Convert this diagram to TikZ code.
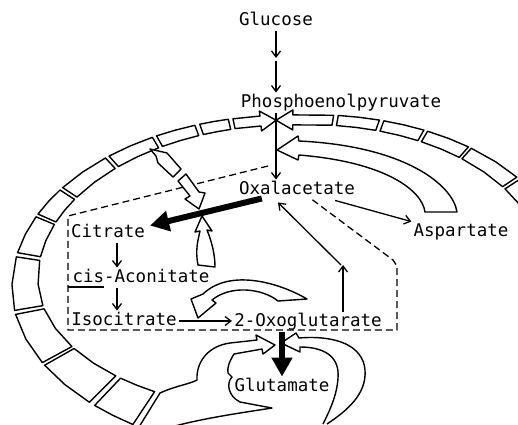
\documentclass[tikz,border=0pt]{standalone}
\usepackage{fontspec}
\usepackage{tikz}
\usetikzlibrary{arrows.meta}
\newfontfamily\metfont{DejaVu Sans Mono}

\begin{document}
\begin{tikzpicture}[x=1pt,y=-1pt,
  met/.style={font=\metfont\fontsize{17.5}{20}\selectfont, inner sep=2pt, text height=13pt, text depth=3.5pt},
  arr/.style={line width=1.3pt, -{Straight Barb[length=6pt,width=9pt]}},
  fatarr/.style={line width=6pt, -{Triangle[length=19pt,width=20pt]}},
  blk/.style={line width=1.4pt, line join=round, fill=white},
  curl/.style={line width=1.4pt, line join=round},
  pool/.style={line width=1.3pt, dash pattern=on 7pt off 4pt},
  declare function={
    rw(\ang)=26+16*sin(\ang);
    rb(\ang)=(sin(\ang)>0)*150+(sin(\ang)<=0)*163;
    rx(\ang,\off)=(265+\off)*cos(\ang);
    ry(\ang,\off)=(rb(\ang)+\off)*sin(\ang)-12*max(cos(\ang),0);
  }]
\useasboundingbox (0,0) rectangle (518,424);
\clip (0,0) rectangle (518,424);

% pool boundary
\draw[pool] (268,166) -- (68,216) -- (68,330) -- (397,330) -- (397,266) -- (393,260) -- (310,198);

% ring of blocks
\begin{scope}[shift={(290,283)}]
\foreach \ta/\tb in {123.5/133.5, 135/150.5, 151.5/169, 170.4/188.6, 190/202.5, 203.5/212.8, 213.8/227.3, 228.3/239.5, 240.5/249.4, 250.5/256.8, 280.3/289.3, 290.3/299.6, 300.5/311, 311.8/326, 327/339, 340/354}{
  \pgfmathsetmacro\tm{(\ta+\tb)/2}
  \draw[blk] ({rx(\ta,rw(\ta)/2)},{ry(\ta,rw(\ta)/2)}) -- ({rx(\tm,rw(\tm)/2)},{ry(\tm,rw(\tm)/2)}) -- ({rx(\tb,rw(\tb)/2)},{ry(\tb,rw(\tb)/2)})
    -- ({rx(\tb,-rw(\tb)/2)},{ry(\tb,-rw(\tb)/2)}) -- ({rx(\tm,-rw(\tm)/2)},{ry(\tm,-rw(\tm)/2)}) -- ({rx(\ta,-rw(\ta)/2)},{ry(\ta,-rw(\ta)/2)}) -- cycle;
}
% the two ring arrows meeting under PEP
\draw[blk] ({rx(257.8,5)},{ry(257.8,5)}) -- ({rx(263.6,5)},{ry(263.6,5)}) -- ({rx(263.6,10)},{ry(263.6,10)}) -- ({rx(267,0)},{ry(267,0)})
  -- ({rx(263.6,-10)},{ry(263.6,-10)}) -- ({rx(263.6,-5)},{ry(263.6,-5)}) -- ({rx(257.8,-5)},{ry(257.8,-5)}) -- cycle;
\draw[blk] ({rx(279.3,5)},{ry(279.3,5)}) -- ({rx(270.6,5)},{ry(270.6,5)}) -- ({rx(270.6,10)},{ry(270.6,10)}) -- ({rx(267,0)},{ry(267,0)})
  -- ({rx(270.6,-10)},{ry(270.6,-10)}) -- ({rx(270.6,-5)},{ry(270.6,-5)}) -- ({rx(279.3,-5)},{ry(279.3,-5)}) -- cycle;
\end{scope}

% branch off the ring towards citrate
\draw[blk] (150,149) -- (167,153) -- (181,169) -- (173,177) -- (158,163) -- (156,156) -- cycle;
\draw[blk] (186,174) -- (199,192) -- (205,193) -- (199,209) -- (185,199) -- (190,196) -- (178,181) -- cycle;
% from cis-aconitate
\draw[blk] (198,265) .. controls (195,250) and (198,240) .. (200,231) -- (195,232) -- (202,216) -- (212,231) -- (207,230) .. controls (212,242) and (215,255) .. (215,267) -- cycle;
% from aspartate
\draw[blk] (457,212) .. controls (453,185) and (405,146) .. (299,141) -- (298,136) -- (277,150) -- (298,160) -- (299,155) .. controls (385,162) and (422,190) .. (425,212) -- cycle;
% over to isocitrate
\draw[blk] (307,299) .. controls (280,283) and (230,268) .. (203,294) -- (191,299) -- (198,318) -- (216,303) -- (212,300) .. controls (230,285) and (262,288) .. (278,301) -- cycle;
% curls round glutamate
\draw[curl] (139,427) -- (160,393) .. controls (175,386) and (190,384) .. (197,380) .. controls (196,362) and (208,346) .. (230,343) -- (257,340) -- (256,335) -- (275,345) -- (263,354) -- (262,349) -- (234,354)
  .. controls (229,362) and (227,368) .. (228,373) -- (232,377) .. controls (226,383) and (228,396) .. (240,402) -- (272,408) .. controls (240,413) and (205,418) .. (175,426);
\draw[curl] (327,424) .. controls (345,412) and (367,395) .. (365,370) .. controls (363,345) and (335,335) .. (299,338) -- (296,333) -- (281,343) -- (300,352) -- (300,347)
  .. controls (322,347) and (340,355) .. (338,378) .. controls (337,395) and (330,410) .. (323,424);

% metabolites
\node[met] (glc) at (276,21) {Glucose};
\node[met] (pep) at (341,103) {Phosphoenolpyruvate};
\node[met] (oaa) at (297,190) {Oxalacetate};
\node[met] (asp) at (461,232) {Aspartate};
\node[met] (cit) at (108,233) {Citrate};
\node[met] (aco) at (141,278) {cis-Aconitate};
\node[met] (icit) at (124,321) {Isocitrate};
\node[met] (oxo) at (308,322) {2-Oxoglutarate};
\node[met] (glu) at (282,387) {Glutamate};
\draw[line width=1.2pt] (68,287) -- (104,287);

% reactions
\coordinate (g1) at (276,58);
\draw[arr] (glc.south) -- (g1);
\draw[arr] ([yshift=-3pt]g1) -- (glc.south |- pep.north);
\draw[arr] (glc.south |- pep.south) -- (glc.south |- oaa.north);
\draw[arr] ([xshift=-22pt]oaa.south east) -- (asp.north west);
\draw[arr] ([xshift=9pt]cit.south) -- ([xshift=9pt]cit.south |- aco.north);
\draw[arr] ([xshift=9pt]cit.south |- aco.south) -- ([xshift=9pt]cit.south |- icit.north);
\draw[arr] (icit.east) -- (icit.east -| oxo.west);
\coordinate (o1) at (343,265);
\draw[arr] (oxo.north -| o1) -- (o1);
\draw[arr] ([xshift=-2pt]o1) -- ([xshift=-19pt,yshift=-2pt]oaa.south);
\draw[fatarr] ([xshift=25pt,yshift=2pt]oaa.south west) -- ([xshift=3pt,yshift=-3pt]cit.north east);
\draw[fatarr] (glu.north |- oxo.south) -- (glu.north);
\end{tikzpicture}
\end{document}
